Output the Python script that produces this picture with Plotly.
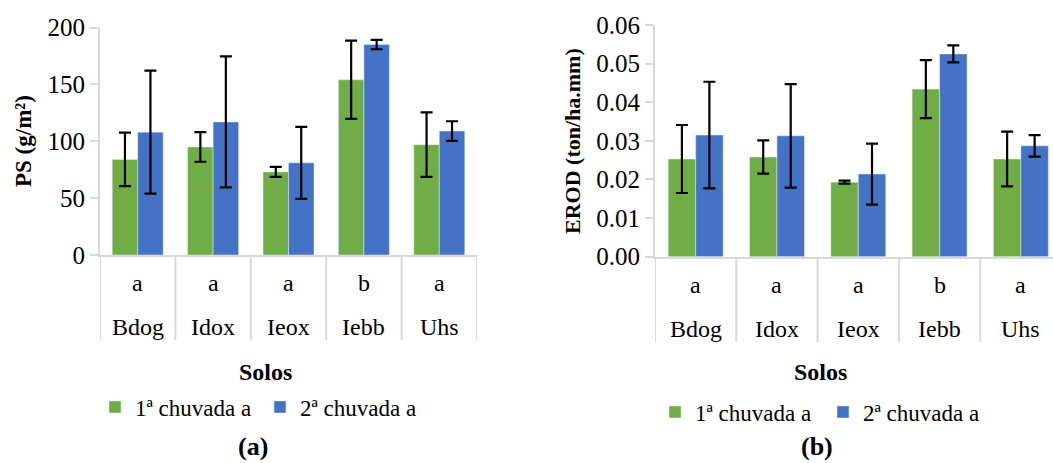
import plotly.graph_objects as go

W, H = 1053, 463

solos = ["Bdog", "Idox", "Ieox", "Iebb", "Uhs"]
letras = ["a", "a", "a", "b", "a"]
series = ["1ª chuvada a", "2ª chuvada a"]

ps_1 = [84, 95, 73, 154, 97]
ps_1_err = [23.5, 13, 4.4, 34.4, 28.4]
ps_2 = [108, 117, 81, 185, 109]
ps_2_err = [54, 57.6, 31.6, 4.1, 8.6]

erod_1 = [0.0253, 0.0258, 0.0193, 0.0434, 0.0253]
erod_1_err = [0.0088, 0.0043, 0.0004, 0.0075, 0.0071]
erod_2 = [0.0315, 0.0313, 0.0214, 0.0525, 0.0287]
erod_2_err = [0.0138, 0.0134, 0.0079, 0.0022, 0.0028]

ps_ticks = [0, 50, 100, 150, 200]
erod_ticks = [0.00, 0.01, 0.02, 0.03, 0.04, 0.05, 0.06]

GREEN = "#70AD47"
BLUE = "#4472C4"
GRAY = "#D9D9D9"
FONT = "Liberation Serif, Times New Roman, serif"


def py(px):
    return 1 - px / H


def pxx(px):
    return px / W


fig = go.Figure()

err_style = dict(color="#000000", thickness=2.2, width=6)

fig.add_trace(go.Bar(x=solos, y=ps_1, name=series[0], marker_color=GREEN,
                     error_y=dict(type="data", array=ps_1_err, **err_style),
                     xaxis="x", yaxis="y", legend="legend"))
fig.add_trace(go.Bar(x=solos, y=ps_2, name=series[1], marker_color=BLUE,
                     error_y=dict(type="data", array=ps_2_err, **err_style),
                     xaxis="x", yaxis="y", legend="legend"))
fig.add_trace(go.Bar(x=solos, y=erod_1, name=series[0], marker_color=GREEN,
                     error_y=dict(type="data", array=erod_1_err, **err_style),
                     xaxis="x2", yaxis="y2", legend="legend2"))
fig.add_trace(go.Bar(x=solos, y=erod_2, name=series[1], marker_color=BLUE,
                     error_y=dict(type="data", array=erod_2_err, **err_style),
                     xaxis="x2", yaxis="y2", legend="legend2"))

xcommon = dict(type="category", showline=True, linecolor=GRAY, linewidth=2,
               showticklabels=False, ticks="", showgrid=False, zeroline=False,
               fixedrange=True)
ycommon = dict(showline=True, linecolor=GRAY, linewidth=2, ticks="outside",
               ticklen=8, tickcolor=GRAY, tickwidth=2, showgrid=False,
               zeroline=False, automargin=False,
               tickfont=dict(family=FONT, size=25, color="#000"))

legend_font = dict(family=FONT, size=23, color="#000")

fig.update_layout(
    width=W, height=H, margin=dict(l=0, r=0, t=0, b=0, autoexpand=False),
    paper_bgcolor="white", plot_bgcolor="white",
    barmode="group", bargap=0.324, bargroupgap=0,
    font=dict(family=FONT, color="#000"),
    xaxis=dict(domain=[pxx(100), pxx(477)], range=[-0.5, 4.5], anchor="y", **xcommon),
    yaxis=dict(domain=[py(255), py(27.5)], range=[0, 200], tickvals=ps_ticks,
               ticktext=[str(v) for v in ps_ticks], anchor="x", **ycommon),
    xaxis2=dict(domain=[pxx(655), 1.0], range=[-0.5, 4.395], anchor="y2", **xcommon),
    yaxis2=dict(domain=[py(256.7), py(25)], range=[0, 0.06], tickvals=erod_ticks,
                ticktext=[f"{v:.2f}" for v in erod_ticks], anchor="x2", **ycommon),
    legend=dict(orientation="h", x=pxx(95), y=py(407), xanchor="left", yanchor="middle",
                font=legend_font, entrywidth=120,
                bgcolor="rgba(0,0,0,0)", traceorder="normal"),
    legend2=dict(orientation="h", x=pxx(655), y=py(412), xanchor="left", yanchor="middle",
                 font=legend_font, entrywidth=123,
                 bgcolor="rgba(0,0,0,0)", traceorder="normal"),
    showlegend=True,
)

shapes = []
annotations = []
for xa, ytop, ybot, yl, yn in [("x", 255, 340, 283, 327), ("x2", 256.7, 342, 285, 329)]:
    for i in range(len(solos) + 1):
        shapes.append(dict(type="line", xref=xa, yref="paper", x0=i - 0.5, x1=i - 0.5,
                           y0=py(ybot), y1=py(ytop), line=dict(color=GRAY, width=2),
                           layer="below"))
    for i, (s, l) in enumerate(zip(solos, letras)):
        annotations.append(dict(xref=xa, yref="paper", x=s, y=py(yl), text=l,
                                showarrow=False, xanchor="center", yanchor="middle",
                                font=dict(family=FONT, size=24, color="#000")))
        annotations.append(dict(xref=xa, yref="paper", x=s, y=py(yn), text=s,
                                showarrow=False, xanchor="center", yanchor="middle",
                                font=dict(family=FONT, size=24, color="#000")))

# axis titles and panel labels
annotations += [
    dict(xref="paper", yref="paper", x=pxx(23), y=py(141), text="<b>PS (g/m²)</b>",
         textangle=-90, showarrow=False, xanchor="center", yanchor="middle",
         font=dict(family=FONT, size=23, color="#000")),
    dict(xref="paper", yref="paper", x=pxx(572), y=py(141), text="<b>EROD (ton/ha.mm)</b>",
         textangle=-90, showarrow=False, xanchor="center", yanchor="middle",
         font=dict(family=FONT, size=22, color="#000")),
    dict(xref="paper", yref="paper", x=pxx(265), y=py(372), text="<b>Solos</b>",
         showarrow=False, xanchor="center", yanchor="middle",
         font=dict(family=FONT, size=24, color="#000")),
    dict(xref="paper", yref="paper", x=pxx(820), y=py(372), text="<b>Solos</b>",
         showarrow=False, xanchor="center", yanchor="middle",
         font=dict(family=FONT, size=24, color="#000")),
    dict(xref="paper", yref="paper", x=pxx(253), y=py(446), text="<b>(a)</b>",
         showarrow=False, xanchor="center", yanchor="middle",
         font=dict(family=FONT, size=26, color="#000")),
    dict(xref="paper", yref="paper", x=pxx(817), y=py(446), text="<b>(b)</b>",
         showarrow=False, xanchor="center", yanchor="middle",
         font=dict(family=FONT, size=26, color="#000")),
]

fig.update_layout(shapes=shapes, annotations=annotations)

fig.write_html("out.html")
